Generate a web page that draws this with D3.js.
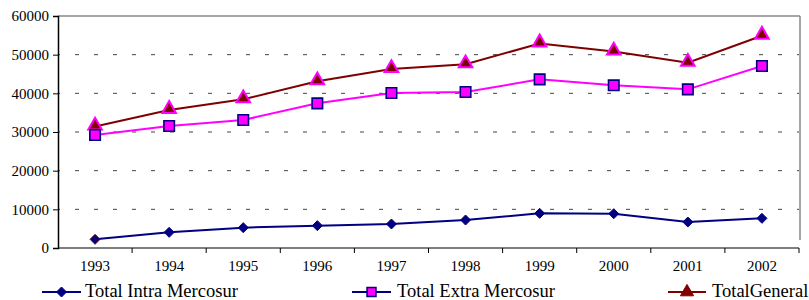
<!DOCTYPE html>
<html><head><meta charset="utf-8">
<script src="https://cdn.jsdelivr.net/npm/d3@7"></script>
<style>body{margin:0;background:#fff}svg{display:block}svg text{font-family:"Liberation Serif",Tinos,"Times New Roman",serif;fill:#000}</style>
</head><body><svg id="c" width="809" height="300"></svg>
<script>
const years = ["1993","1994","1995","1996","1997","1998","1999","2000","2001","2002"];
const intra = [2240, 4050, 5260, 5780, 6210, 7240, 8960, 8880, 6720, 7670];
const extra = [29220, 31550, 33100, 37410, 40090, 40340, 43620, 42070, 41030, 47070];
const general = [31400, 35700, 38450, 43100, 46300, 47500, 52900, 50800, 47900, 54900];
const yTicks = [0, 10000, 20000, 30000, 40000, 50000, 60000];
const seriesNames = ["Total Intra Mercosur", "Total Extra Mercosur", "TotalGeneral"];
const FONT = '"Liberation Serif", Tinos, "Times New Roman", serif';

const svg = d3.select("#c");
const L = 58, R = 799, T = 16, B = 248;
const x = d3.scaleBand().domain(years).range([L, R]);
const y = d3.scaleLinear().domain([0, 60000]).range([B, T]);
const cx = d => x(d) + x.bandwidth() / 2;

// gridlines
svg.append("g").selectAll("line").data(yTicks.filter(v => v > 0 && v < 60000)).join("line")
  .attr("x1", L).attr("x2", R).attr("y1", d => y(d)).attr("y2", d => y(d))
  .attr("stroke", "#444").attr("stroke-width", 1).attr("stroke-dasharray", "4,15")
  .attr("stroke-dashoffset", -17);
// top & right frame
svg.append("line").attr("x1", L).attr("x2", R + 1).attr("y1", y(60000)).attr("y2", y(60000))
  .attr("stroke", "#888").attr("stroke-width", 1.5);
svg.append("line").attr("x1", R + 1).attr("x2", R + 1).attr("y1", y(60000)).attr("y2", 240)
  .attr("stroke", "#888").attr("stroke-width", 1.5);

// y axis
const ya = svg.append("g").attr("transform", `translate(${L},0)`)
  .call(d3.axisLeft(y).tickValues(yTicks).tickFormat(d3.format("d")).tickSize(5).tickPadding(4));
ya.attr("font-family", FONT);
ya.select(".domain").attr("stroke", "#000").attr("stroke-width", 1.5);
ya.selectAll(".tick line").attr("stroke", "#000");
ya.selectAll("text").attr("font-family", FONT).attr("font-size", 15).attr("fill", "#000");

// x axis
const xa = svg.append("g").attr("transform", `translate(0,${B})`)
  .call(d3.axisBottom(x).tickSize(0).tickPadding(12));
xa.attr("font-family", FONT);
xa.select(".domain").attr("stroke", "#000").attr("stroke-width", 1.2).attr("d", `M${L},0H${R}`);
xa.selectAll("text").attr("font-family", FONT).attr("font-size", 15).attr("fill", "#000");
svg.append("g").selectAll("line").data(d3.range(1, years.length + 1)).join("line")
  .attr("x1", i => L + i * x.bandwidth()).attr("x2", i => L + i * x.bandwidth())
  .attr("y1", B).attr("y2", B + 5).attr("stroke", "#000").attr("stroke-width", 1);

const line = d3.line().x((d, i) => cx(years[i])).y(d => y(d));
svg.append("path").datum(general).attr("d", line).attr("fill", "none").attr("stroke", "#800000").attr("stroke-width", 2);
svg.append("path").datum(extra).attr("d", line).attr("fill", "none").attr("stroke", "#FF00FF").attr("stroke-width", 2);
svg.append("path").datum(intra).attr("d", line).attr("fill", "none").attr("stroke", "#000080").attr("stroke-width", 2);

const tri = d3.symbol().type(d3.symbolTriangle).size(80);
const sq = d3.symbol().type(d3.symbolSquare).size(110);
const diaPath = r => `M0,${-r}L${r},0L0,${r}L${-r},0Z`;

svg.append("g").selectAll("path").data(general).join("path")
  .attr("d", tri).attr("transform", (d, i) => `translate(${cx(years[i])},${y(d) - 1})`)
  .attr("fill", "#800000").attr("stroke", "#FF00FF").attr("stroke-width", 2);
svg.append("g").selectAll("path").data(extra).join("path")
  .attr("d", sq).attr("transform", (d, i) => `translate(${cx(years[i])},${y(d)})`)
  .attr("fill", "#FF00FF").attr("stroke", "#000080").attr("stroke-width", 1.6);
svg.append("g").selectAll("path").data(intra).join("path")
  .attr("d", diaPath(5)).attr("transform", (d, i) => `translate(${cx(years[i])},${y(d)})`)
  .attr("fill", "#000080").attr("stroke", (d, i) => i === 0 ? "#800000" : "#000080").attr("stroke-width", 1);

// legend
const leg = [
  {x0: 42, x1: 81, tx: 85, color: "#000080", d: diaPath(5), fill: "#000080", stroke: "#000080", sw: 1},
  {x0: 352, x1: 391, tx: 397, color: "#000080", d: d3.symbol().type(d3.symbolSquare).size(80)(), fill: "#FF00FF", stroke: "#000080", sw: 1.5},
  {x0: 668, x1: 706, tx: 712, color: "#800000", d: d3.symbol().type(d3.symbolTriangle).size(75)(), fill: "#800000", stroke: "#800000", sw: 1}
];
const lg = svg.append("g").attr("font-family", FONT).selectAll("g").data(leg).join("g");
lg.append("line").attr("x1", d => d.x0).attr("x2", d => d.x1).attr("y1", 292).attr("y2", 292)
  .attr("stroke", d => d.color).attr("stroke-width", 2);
lg.append("path").attr("d", d => d.d).attr("transform", d => `translate(${(d.x0 + d.x1) / 2},292)`)
  .attr("fill", d => d.fill).attr("stroke", d => d.stroke).attr("stroke-width", d => d.sw);
lg.append("text").attr("x", d => d.tx).attr("y", 297).attr("font-family", FONT).attr("font-size", 18.5)
  .text((d, i) => seriesNames[i]);
</script></body></html>
